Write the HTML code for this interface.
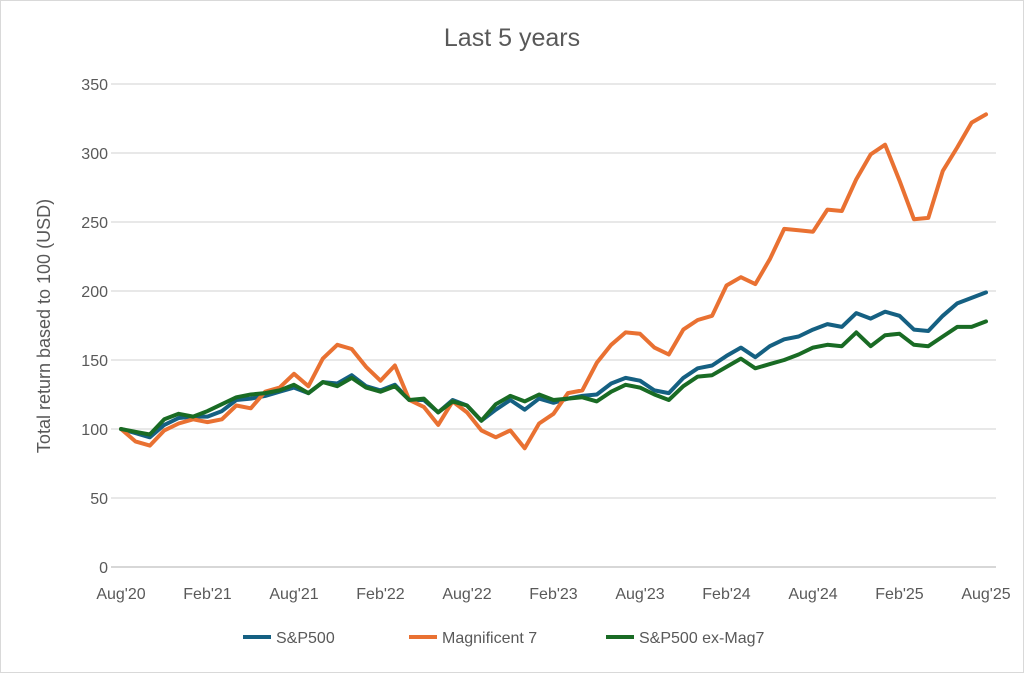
<!DOCTYPE html>
<html><head><meta charset="utf-8"><style>
body{margin:0;background:#fff;font-family:"Liberation Sans",sans-serif;}
svg text{font-family:"Liberation Sans",sans-serif;fill:#595959;}
</style></head><body>
<svg id="chart" width="1024" height="673" xmlns="http://www.w3.org/2000/svg">
<rect x="0.5" y="0.5" width="1023" height="672" fill="#fff" stroke="#d9d9d9" stroke-width="1"/>
<text x="512" y="46" font-size="25" text-anchor="middle">Last 5 years</text>
<text transform="translate(50,326) rotate(-90)" font-size="18" text-anchor="middle">Total return based to 100 (USD)</text>
<g id="grid"></g><g id="series"></g><g id="xlabels"></g><g id="ylabels"></g>
<g>
<line x1="243" y1="637" x2="271" y2="637" stroke="#156082" stroke-width="4"/>
<text x="276" y="643" font-size="16">S&amp;P500</text>
<line x1="409" y1="637" x2="437" y2="637" stroke="#E97132" stroke-width="4"/>
<text x="442" y="643" font-size="16">Magnificent 7</text>
<line x1="606" y1="637" x2="634" y2="637" stroke="#196B24" stroke-width="4"/>
<text x="639" y="643" font-size="16">S&amp;P500 ex-Mag7</text>
</g>
</svg>
<script>
const xTickLabels=["Aug'20","Feb'21","Aug'21","Feb'22","Aug'22","Feb'23","Aug'23","Feb'24","Aug'24","Feb'25","Aug'25"];
const yTicks=[0,50,100,150,200,250,300,350];
const sp500=[100,97,94,103,108,109,109,113,121,122,124,127,130,126,134,133,139,131,128,132,121,121,112,121,117,106,114,121,114,122,119,122,124,125,133,137,135,128,126,137,144,146,153,159,152,160,165,167,172,176,174,184,180,185,182,172,171,182,191,195,199];
const mag7=[100,91,88,99,104,107,105,107,117,115,127,130,140,131,151,161,158,145,135,146,121,116,103,120,112,99,94,99,86,104,111,126,128,148,161,170,169,159,154,172,179,182,204,210,205,223,245,244,243,259,258,281,299,306,280,252,253,287,304,322,328];
const exMag7=[100,98,96,107,111,109,113,118,123,125,126,128,132,126,134,131,137,130,127,131,121,122,112,120,117,106,118,124,120,125,121,122,123,120,127,132,130,125,121,131,138,139,145,151,144,147,150,154,159,161,160,170,160,168,169,161,160,167,174,174,178];
const NS="http://www.w3.org/2000/svg";
const X0=121,X1=986,Y0=567,Y1=84;
function xPos(i){return X0+(X1-X0)*i/60;}
function yPos(v){return Y0-(Y0-Y1)*v/350;}
const grid=document.getElementById('grid'),yl=document.getElementById('ylabels'),xl=document.getElementById('xlabels'),sg=document.getElementById('series');
yTicks.forEach(v=>{
 const l=document.createElementNS(NS,'line');
 l.setAttribute('x1',111);l.setAttribute('x2',996);l.setAttribute('y1',yPos(v));l.setAttribute('y2',yPos(v));
 l.setAttribute('stroke',v===0?'#bfbfbf':'#d9d9d9');l.setAttribute('stroke-width',1.3);
 
 
 grid.appendChild(l);
 const t=document.createElementNS(NS,'text');
 t.setAttribute('x',108);t.setAttribute('y',yPos(v)+6);t.setAttribute('font-size',16);t.setAttribute('text-anchor','end');
 t.textContent=v;
 
 
 yl.appendChild(t);
});
xTickLabels.forEach((s,k)=>{
 const t=document.createElementNS(NS,'text');
 t.setAttribute('x',xPos(k*6));t.setAttribute('y',599);t.setAttribute('font-size',16);t.setAttribute('text-anchor','middle');
 t.textContent=s;
 
 
 xl.appendChild(t);
});
function draw(arr,color,name){
 const p=document.createElementNS(NS,'polyline');
 p.setAttribute('points',arr.map((v,i)=>xPos(i).toFixed(1)+','+yPos(v).toFixed(1)).join(' '));
 p.setAttribute('fill','none');p.setAttribute('stroke',color);p.setAttribute('stroke-width',4);
 p.setAttribute('stroke-linejoin','round');p.setAttribute('stroke-linecap','round');
 
 
 sg.appendChild(p);
}
draw(sp500,'#156082','series-sp500');
draw(mag7,'#E97132','series-mag7');
draw(exMag7,'#196B24','series-exmag7');
</script>
</body></html>
